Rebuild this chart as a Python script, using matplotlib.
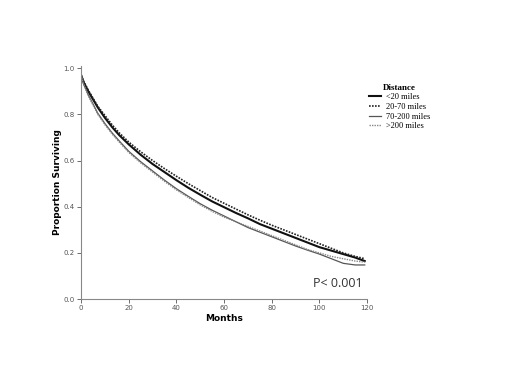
"""
Kaplan-Meier style survival curves by travel distance.
Output: out.png
"""
import matplotlib
matplotlib.use('Agg')
import matplotlib.pyplot as plt
from matplotlib.lines import Line2D

# ── Values ──
months = [0, 1, 2, 3, 5, 7, 10, 13, 16, 20, 25, 30, 35, 40, 45, 50, 55, 60,
          65, 70, 75, 80, 85, 90, 95, 100, 105, 110, 115, 119]

surv_lt20 = [0.97, 0.94, 0.92, 0.90, 0.865, 0.83, 0.785, 0.745, 0.71, 0.67,
             0.625, 0.585, 0.55, 0.515, 0.482, 0.452, 0.423, 0.398, 0.373, 0.35,
             0.325, 0.305, 0.285, 0.265, 0.245, 0.225, 0.21, 0.195, 0.18, 0.165]
surv_20_70 = [0.97, 0.945, 0.925, 0.905, 0.87, 0.835, 0.795, 0.755, 0.72, 0.68,
              0.638, 0.60, 0.565, 0.532, 0.50, 0.47, 0.44, 0.415, 0.39, 0.365,
              0.342, 0.32, 0.30, 0.28, 0.26, 0.24, 0.22, 0.20, 0.185, 0.175]
surv_70_200 = [0.97, 0.935, 0.91, 0.885, 0.845, 0.805, 0.76, 0.72, 0.685, 0.64,
               0.595, 0.555, 0.515, 0.478, 0.445, 0.413, 0.385, 0.36, 0.335, 0.31,
               0.29, 0.27, 0.25, 0.23, 0.212, 0.195, 0.175, 0.155, 0.148, 0.148]
surv_gt200 = [0.97, 0.93, 0.905, 0.88, 0.84, 0.80, 0.755, 0.715, 0.68, 0.635,
              0.59, 0.55, 0.51, 0.473, 0.44, 0.408, 0.38, 0.355, 0.335, 0.315,
              0.295, 0.275, 0.255, 0.235, 0.215, 0.20, 0.185, 0.175, 0.165, 0.16]

labels = ['<20 miles', '20-70 miles', '70-200 miles', '>200 miles']
x_ticks = [0, 20, 40, 60, 80, 100, 120]
y_ticks = [0.0, 0.2, 0.4, 0.6, 0.8, 1.0]

STYLES = [
    dict(color='#111111', lw=1.5, ls='-'),
    dict(color='#222222', lw=1.2, ls=(0, (1, 0.8))),
    dict(color='#555555', lw=0.9, ls='-'),
    dict(color='#888888', lw=1.0, ls=(0, (1, 0.8))),
]

fig = plt.figure(figsize=(5.2, 3.9), dpi=100)
ax = fig.add_axes([0.156, 0.233, 0.55, 0.598])

series = [surv_lt20, surv_20_70, surv_70_200, surv_gt200]
for vals, st in zip(series, STYLES):
    ax.plot(months, vals, **st)

ax.set_xlim(0, 120)
ax.set_ylim(0, 1.01)
ax.set_xticks(x_ticks)
ax.set_xticklabels([str(v) for v in x_ticks])
ax.set_yticks(y_ticks)
ax.set_yticklabels([f'{v:.1f}' for v in y_ticks])
ax.tick_params(labelsize=5, colors='#555555', length=3, width=0.6, pad=1.5)

for side in ['top', 'right']:
    ax.spines[side].set_visible(False)
for side in ['left', 'bottom']:
    ax.spines[side].set_color('#888888')
    ax.spines[side].set_linewidth(0.8)

ax.set_xlabel('Months', fontsize=6.5, fontweight='bold', labelpad=2)
ax.set_ylabel('Proportion Surviving', fontsize=6.5, fontweight='bold', labelpad=1)

ax.text(118, 0.04, 'P< 0.001', fontsize=9, ha='right', va='bottom',
        color='#333333', family='Open Sans')

handles = [Line2D([0], [0], **st) for st in STYLES]
leg = fig.legend(handles, labels, title='Distance', loc='upper left',
                 bbox_to_anchor=(0.695, 0.805), frameon=False,
                 prop={'family': 'Liberation Serif', 'size': 6},
                 handlelength=1.5, handletextpad=0.5, labelspacing=0.2)
leg.get_title().set_fontfamily('Liberation Serif')
leg.get_title().set_fontweight('bold')
leg.get_title().set_fontsize(6.5)

fig.savefig('out.png', dpi=100)
plt.close(fig)
